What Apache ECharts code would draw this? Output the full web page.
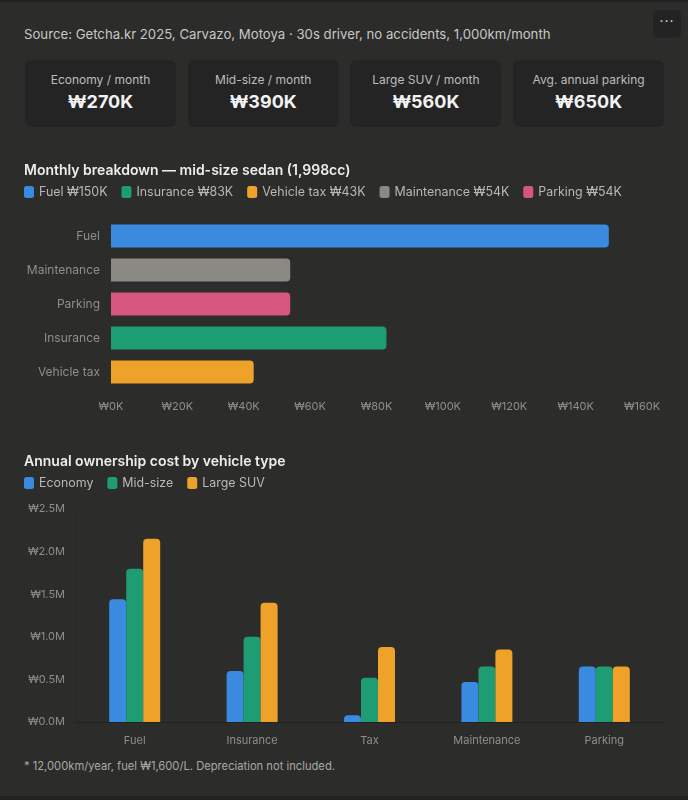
<!DOCTYPE html>
<html>
<head>
<meta charset="utf-8">
<script src="https://cdn.jsdelivr.net/npm/echarts@6/dist/echarts.min.js"></script>
<style>
	html, body { margin: 0; padding: 0; background: #222; }
	body { width: 688px; height: 800px; position: relative; font-family: Inter, "Noto Sans", sans-serif; }
	.panel { position: absolute; left: 0; top: 2px; width: 688px; height: 794px; background: #2c2c2a; }
	.menu { position: absolute; left: 653px; top: 10px; width: 28px; height: 28px; border-radius: 5px; background: #232323;
		color: #ddd; font-size: 14px; line-height: 22px; text-align: center; letter-spacing: 1px; }
	.source { position: absolute; left: 24px; top: 26px; font-size: 13.2px; color: #c8c8c6; white-space: nowrap; }
	.card { position: absolute; top: 60px; width: 151px; height: 67px; border-radius: 6px; background: #242424; text-align: center; }
	.card .lbl { position: absolute; left: 0; right: 0; top: 12px; font-size: 12px; color: #bdbdbb; }
	.card .val { position: absolute; left: 0; right: 0; top: 31px; font-size: 18px; font-weight: 700; color: #f2f2f2; }
	.note { position: absolute; left: 24px; top: 759px; font-size: 11.2px; color: #aaa9a6; white-space: nowrap; }
	#chart { position: absolute; left: 0; top: 150px; width: 688px; height: 605px; }
</style>
</head>
<body>
<div class="panel"></div>
<div class="menu">···</div>
<div class="source">Source: Getcha.kr 2025, Carvazo, Motoya · 30s driver, no accidents, 1,000km/month</div>
<div id="cards"></div>
<div id="chart"></div>
<div class="note">* 12,000km/year, fuel ₩1,600/L. Depreciation not included.</div>
<script>
// KPI cards
const kpiLabels = ["Economy / month", "Mid-size / month", "Large SUV / month", "Avg. annual parking"];
const kpiValues = ["₩270K", "₩390K", "₩560K", "₩650K"];

// monthly breakdown, mid-size sedan (thousand won), in legend order
const breakdownNames = ["Fuel", "Insurance", "Vehicle tax", "Maintenance", "Parking"];
const breakdownValues = [150, 83, 43, 54, 54];
const breakdownColors = ["#3a8ae0", "#1e9c74", "#eea22a", "#8a8983", "#d5567f"];
// order the bars appear, top to bottom
const barOrder = ["Fuel", "Maintenance", "Parking", "Insurance", "Vehicle tax"];

// annual ownership cost (million won)
const costCats = ["Fuel", "Insurance", "Tax", "Maintenance", "Parking"];
const vehicleTypes = ["Economy", "Mid-size", "Large SUV"];
const economy = [1.44, 0.60, 0.08, 0.47, 0.65];
const midSize = [1.80, 1.00, 0.52, 0.65, 0.65];
const largeSuv = [2.15, 1.40, 0.88, 0.85, 0.65];
const vehicleColors = ["#3a8ae0", "#1e9c74", "#eea22a"];

const cardsEl = document.getElementById("cards");
kpiLabels.forEach((l, i) => {
	const c = document.createElement("div");
	c.className = "card";
	c.style.left = (25 + i * 162.7) + "px";
	c.innerHTML = `<div class="lbl">${l}</div><div class="val">${kpiValues[i]}</div>`;
	cardsEl.appendChild(c);
});

const FONT = "Inter, 'Noto Sans', sans-serif";
const muted = "#8e8e8c";
const legendText = { color: "#b8b8b5", fontSize: 12.4, fontFamily: FONT };
const titleText = { color: "#ededeb", fontSize: 14, fontWeight: 600, fontFamily: FONT };

const breakdownSeries = breakdownNames.map((name, i) => ({
	type: "bar",
	name: `${name} ₩${breakdownValues[i]}K`,
	xAxisIndex: 0,
	yAxisIndex: 0,
	stack: "b",
	barWidth: 23,
	itemStyle: { color: breakdownColors[i], borderRadius: [0, 4, 4, 0] },
	data: barOrder.map((c) => (c === name ? breakdownValues[i] : null)),
}));

const vehicleData = [economy, midSize, largeSuv];
const vehicleSeries = vehicleTypes.map((name, i) => ({
	type: "bar",
	name,
	xAxisIndex: 1,
	yAxisIndex: 1,
	barWidth: 17,
	barGap: "0%",
	itemStyle: { color: vehicleColors[i], borderRadius: [4, 4, 0, 0] },
	data: vehicleData[i],
}));

const chart = echarts.init(document.getElementById("chart"));
chart.setOption({
	animation: false,
	textStyle: { fontFamily: FONT },
	title: [
		{ text: "Monthly breakdown — mid-size sedan (1,998cc)", left: 24, top: 14, padding: 0, textStyle: titleText },
		{ text: "Annual ownership cost by vehicle type", left: 24, top: 305, padding: 0, textStyle: titleText },
	],
	legend: [
		{
			data: breakdownSeries.map((s) => s.name),
			left: 24, top: 36, padding: 0, itemWidth: 10, itemHeight: 12, itemGap: 14,
			icon: "roundRect", textStyle: legendText, selectedMode: false,
		},
		{
			data: vehicleTypes,
			left: 24, top: 327, padding: 0, itemWidth: 10, itemHeight: 12, itemGap: 14,
			icon: "roundRect", textStyle: legendText, selectedMode: false,
		},
	],
	grid: [
		{ left: 111, right: 46, top: 69, height: 170 },
		{ left: 76, right: 25, top: 359, height: 213 },
	],
	xAxis: [
		{
			gridIndex: 0, type: "value", min: 0, max: 160, interval: 20,
			axisLabel: { color: muted, fontSize: 11, margin: 12, formatter: (v) => `₩${v}K` },
			splitLine: { show: false }, axisLine: { show: false }, axisTick: { show: false },
		},
		{
			gridIndex: 1, type: "category", data: costCats,
			axisLabel: { color: muted, fontSize: 11, margin: 13 },
			axisLine: { show: true, lineStyle: { color: "#222", width: 1 } },
			axisTick: { show: false },
		},
	],
	yAxis: [
		{
			gridIndex: 0, type: "category", data: barOrder, inverse: true,
			axisLabel: { color: muted, fontSize: 12, margin: 11 },
			axisLine: { show: false }, axisTick: { show: false },
		},
		{
			gridIndex: 1, type: "value", min: 0, max: 2.5, interval: 0.5,
			axisLabel: { color: muted, fontSize: 11, margin: 11, formatter: (v) => `₩${v.toFixed(1)}M` },
			axisLine: { show: true, lineStyle: { color: "#262626", width: 1 } },
			splitLine: { show: false }, axisTick: { show: false },
		},
	],
	series: [...breakdownSeries, ...vehicleSeries],
});
</script>
</body>
</html>
